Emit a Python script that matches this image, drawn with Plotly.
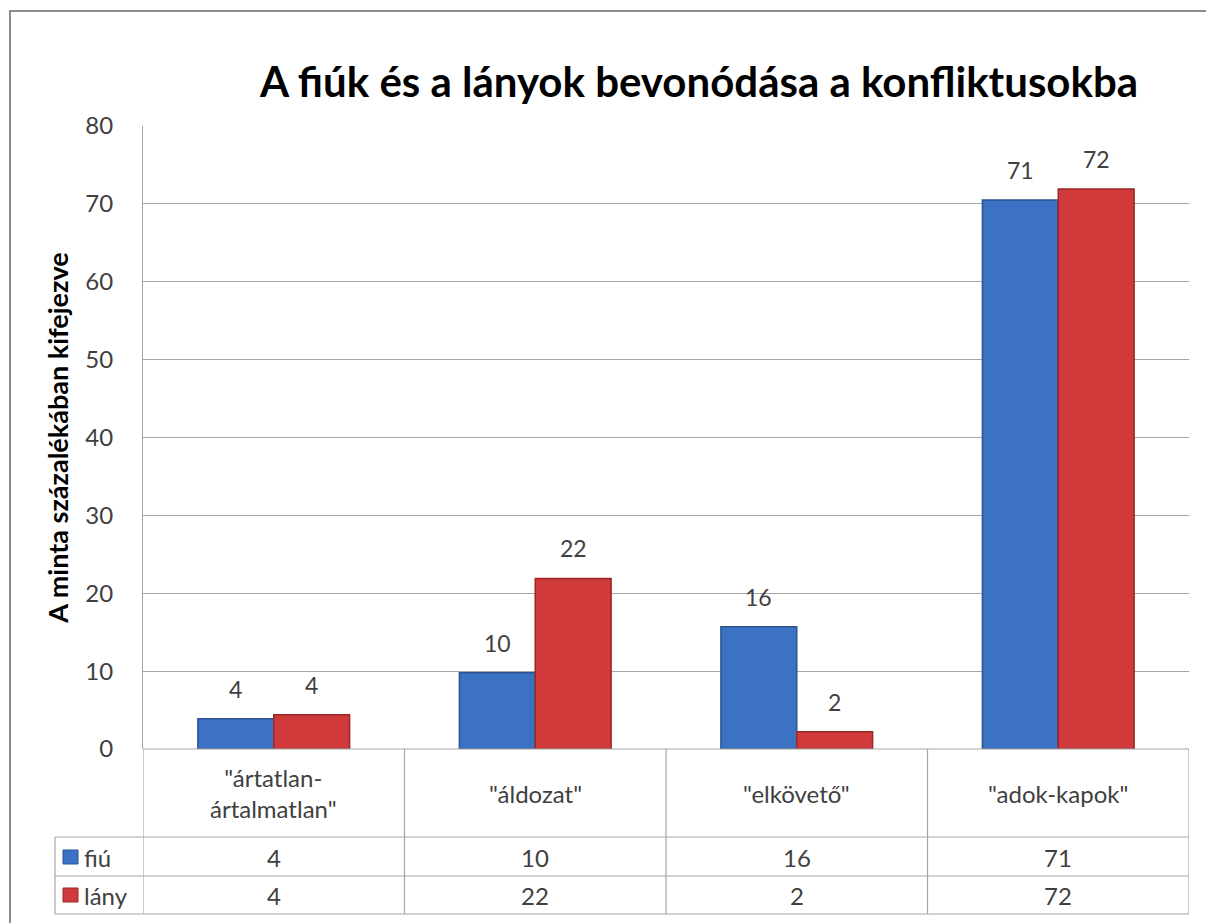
import plotly.graph_objects as go

categories = ['"ártatlan-<br>ártalmatlan"', '"áldozat"', '"elkövető"', '"adok-kapok"']
series_names = ["fiú", "lány"]
fiu_values = [3.9, 9.8, 15.7, 70.5]
lany_values = [4.4, 21.9, 2.2, 71.9]
fiu_labels = [4, 10, 16, 71]
lany_labels = [4, 22, 2, 72]
colors = ["#3c72c4", "#d03a3a"]
edge_colors = ["#2a5390", "#9a2626"]

FONT = "Lato, Open Sans, sans-serif"
OFF = 8  # page body margin
W, H = 1214, 923
L, R, T, B = 143 - OFF, 25 + OFF, 126 - OFF, 174 + OFF
pw, ph = W - L - R, H - T - B
BARGAP = 0.42

def px(xp):
    return (xp - OFF - L) / pw

def py(yp):
    return (H - B - (yp - OFF)) / ph

fig = go.Figure()
for name, vals, c, ec in zip(series_names, [fiu_values, lany_values], colors, edge_colors):
    fig.add_trace(go.Bar(
        x=list(range(len(categories))), y=vals, name=name,
        marker=dict(color=c, line=dict(color=ec, width=1.5)),
    ))

fig.update_layout(
    width=W, height=H,
    margin=dict(l=L, r=R, t=T, b=B),
    paper_bgcolor="white", plot_bgcolor="white",
    barmode="group", bargap=BARGAP, bargroupgap=0,
    showlegend=False,
    title=dict(text="<b>A fiúk és a lányok bevonódása a konfliktusokba</b>",
               x=px(699), xref="paper", xanchor="center",
               y=1 - (82 - OFF) / H, yanchor="middle",
               font=dict(family=FONT, size=42, color="#000000")),
    font=dict(family=FONT, color="#404040"),
)
fig.update_xaxes(range=[-0.5, len(categories) - 0.5], showticklabels=False,
                 showgrid=False, zeroline=False, showline=False, ticks="")
fig.update_yaxes(range=[0, 80], dtick=10, showgrid=True, gridcolor="#a6a6a6", gridwidth=1.2,
                 zeroline=False, showline=True, linecolor="#a6a6a6", linewidth=1.2,
                 ticks="", ticklabelstandoff=24,
                 tickfont=dict(family=FONT, size=24, color="#404040"),
                 title=dict(text="<b>A minta százalékában kifejezve</b>", standoff=8,
                            font=dict(family=FONT, size=27, color="#000000")))

line_col = "#a6a6a6"
shapes = []
# outer chart frame
shapes.append(dict(type="rect", xref="paper", yref="paper",
                   x0=px(10), x1=px(1240), y0=py(950), y1=py(11),
                   line=dict(color="#8c8c8c", width=2), fillcolor="rgba(0,0,0,0)", layer="below"))
# data table lines
y_hdr, y_r1, y_r2 = py(837), py(876), py(914)
xleft = px(55)
shapes.append(dict(type="line", xref="paper", yref="paper", x0=0, x1=1, y0=0, y1=0,
                   line=dict(color=line_col, width=1.2)))
for yy in [y_hdr, y_r1, y_r2]:
    shapes.append(dict(type="line", xref="paper", yref="paper", x0=xleft, x1=1, y0=yy, y1=yy,
                       line=dict(color=line_col, width=1.2)))
shapes.append(dict(type="line", xref="paper", yref="paper", x0=xleft, x1=xleft, y0=y_hdr, y1=y_r2,
                   line=dict(color=line_col, width=1.2)))
for i in range(len(categories) + 1):
    shapes.append(dict(type="line", xref="x", yref="paper", x0=i - 0.5, x1=i - 0.5, y0=0, y1=y_r2,
                       line=dict(color=line_col, width=1.2)))
# legend keys
for k, (c, ec) in enumerate(zip(colors, edge_colors)):
    yc = 857 + k * 38
    shapes.append(dict(type="rect", xref="paper", yref="paper",
                       x0=px(63), x1=px(78), y0=py(yc + 7), y1=py(yc - 7),
                       fillcolor=c, line=dict(color=ec, width=1)))

annotations = []
# data labels above bars (grouped offsets derived from bargap)
bw = (1 - BARGAP) / len(series_names)
for s, (vals, labs) in enumerate(zip([fiu_values, lany_values], [fiu_labels, lany_labels])):
    off = -(1 - BARGAP) / 2 + bw * (s + 0.5)
    for i, (v, lab) in enumerate(zip(vals, labs)):
        annotations.append(dict(x=i + off, xref="x", y=v, yref="y", text=str(lab),
                                showarrow=False, yanchor="bottom", xanchor="center", yshift=14,
                                font=dict(family=FONT, size=23, color="#404040")))
tfont = dict(family=FONT, size=24, color="#404040")
for i, cat in enumerate(categories):
    annotations.append(dict(x=i, xref="x", y=py(793), yref="paper", text=cat, showarrow=False,
                            font=tfont, xanchor="center", yanchor="middle"))
for row, (name, labs) in enumerate(zip(series_names, [fiu_labels, lany_labels])):
    yc = py(857 + row * 38)
    annotations.append(dict(x=px(82), xref="paper", y=yc, yref="paper", text=name, showarrow=False,
                            font=tfont, xanchor="left", yanchor="middle"))
    for i, v in enumerate(labs):
        annotations.append(dict(x=i, xref="x", y=yc, yref="paper", text=str(v), showarrow=False,
                                font=tfont, xanchor="center", yanchor="middle"))

fig.update_layout(shapes=shapes, annotations=annotations)
fig.write_html("out.html")
